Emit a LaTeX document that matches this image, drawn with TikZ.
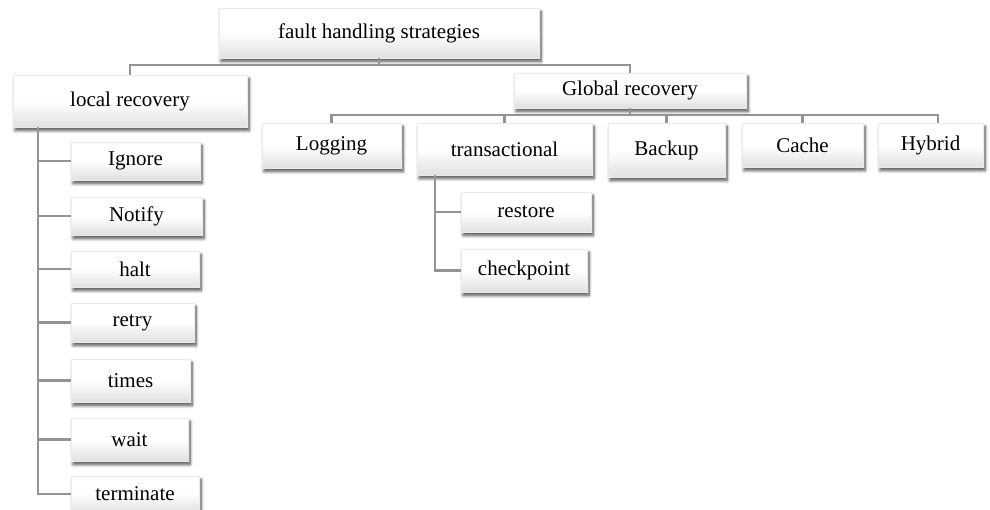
\documentclass[tikz,border=0pt]{standalone}
\usepackage{fontspec}
\setmainfont{Liberation Serif}
\usetikzlibrary{shadows,shadows.blur}
\begin{document}
\begin{tikzpicture}[x=1pt,y=-1pt,
  box/.style={draw=black!8, line width=0.4pt, top color=white, bottom color=black!12,
    middle color=white, blur shadow={shadow xshift=2pt, shadow yshift=-3.5pt, shadow opacity=70, shadow blur steps=8, shadow blur radius=3pt},
    inner sep=0pt, font=\fontsize{21}{24}\selectfont, text=black},
  conn/.style={draw=black!42, line width=2.2pt}]
\useasboundingbox (0,0) rectangle (990,510);
% nodes
\node[box, minimum width=320, minimum height=50] (top) at (379,33) {fault handling strategies};
\node[box, minimum width=234, minimum height=52] (local) at (130,101) {local recovery};
\node[box, minimum width=232, minimum height=35] (global) at (630,90.5) {Global recovery};
\node[box, minimum width=139, minimum height=45] (logging) at (331.5,145.5) {Logging};
\node[box, minimum width=175, minimum height=52] (trans) at (504.5,149) {transactional};
\node[box, minimum width=117, minimum height=54] (backup) at (666.5,150) {Backup};
\node[box, minimum width=121, minimum height=44] (cache) at (802.5,145) {Cache};
\node[box, minimum width=105, minimum height=44] (hybrid) at (930.5,145) {Hybrid};
\node[box, minimum width=130, minimum height=40] (restore) at (526,212) {restore};
\node[box, minimum width=126, minimum height=43] (checkpoint) at (524,270.5) {checkpoint};
\node[box, minimum width=129, minimum height=38] (ignore) at (135.5,161) {Ignore};
\node[box, minimum width=131, minimum height=38] (notify) at (136.5,216) {Notify};
\node[box, minimum width=128, minimum height=36] (halt) at (135,269) {halt};
\node[box, minimum width=123, minimum height=39] (retry) at (132.5,322.5) {retry};
\node[box, minimum width=119, minimum height=43] (times) at (130.5,380.5) {times};
\node[box, minimum width=117, minimum height=43] (wait) at (129.5,439.5) {wait};
\node[box, minimum width=128, minimum height=36] (terminate) at (135,494) {terminate};
% coordinates for buses
\coordinate (b1) at (379,65);
\coordinate (b2) at (630,115);
\coordinate (lv) at (38,127);
\coordinate (tv) at (435,175);
% connectors
\draw[conn] (top.south) -- (b1) -| (local.north);
\draw[conn] (b1) -| (global.north);
\draw[conn] (global.south) -- (b2) -| (logging.north);
\draw[conn] (b2) -| (trans.north);
\draw[conn] (b2) -| (backup.north);
\draw[conn] (b2) -| (cache.north);
\draw[conn] (b2) -| ([xshift=7.5pt]hybrid.north);
\draw[conn] (lv) |- (terminate.west);
\foreach \n in {ignore,notify,halt,retry,times,wait}
  \draw[conn] (lv |- \n.west) -- (\n.west);
\draw[conn] (tv) |- (checkpoint.west);
\draw[conn] (tv |- restore.west) -- (restore.west);
\end{tikzpicture}
\end{document}
